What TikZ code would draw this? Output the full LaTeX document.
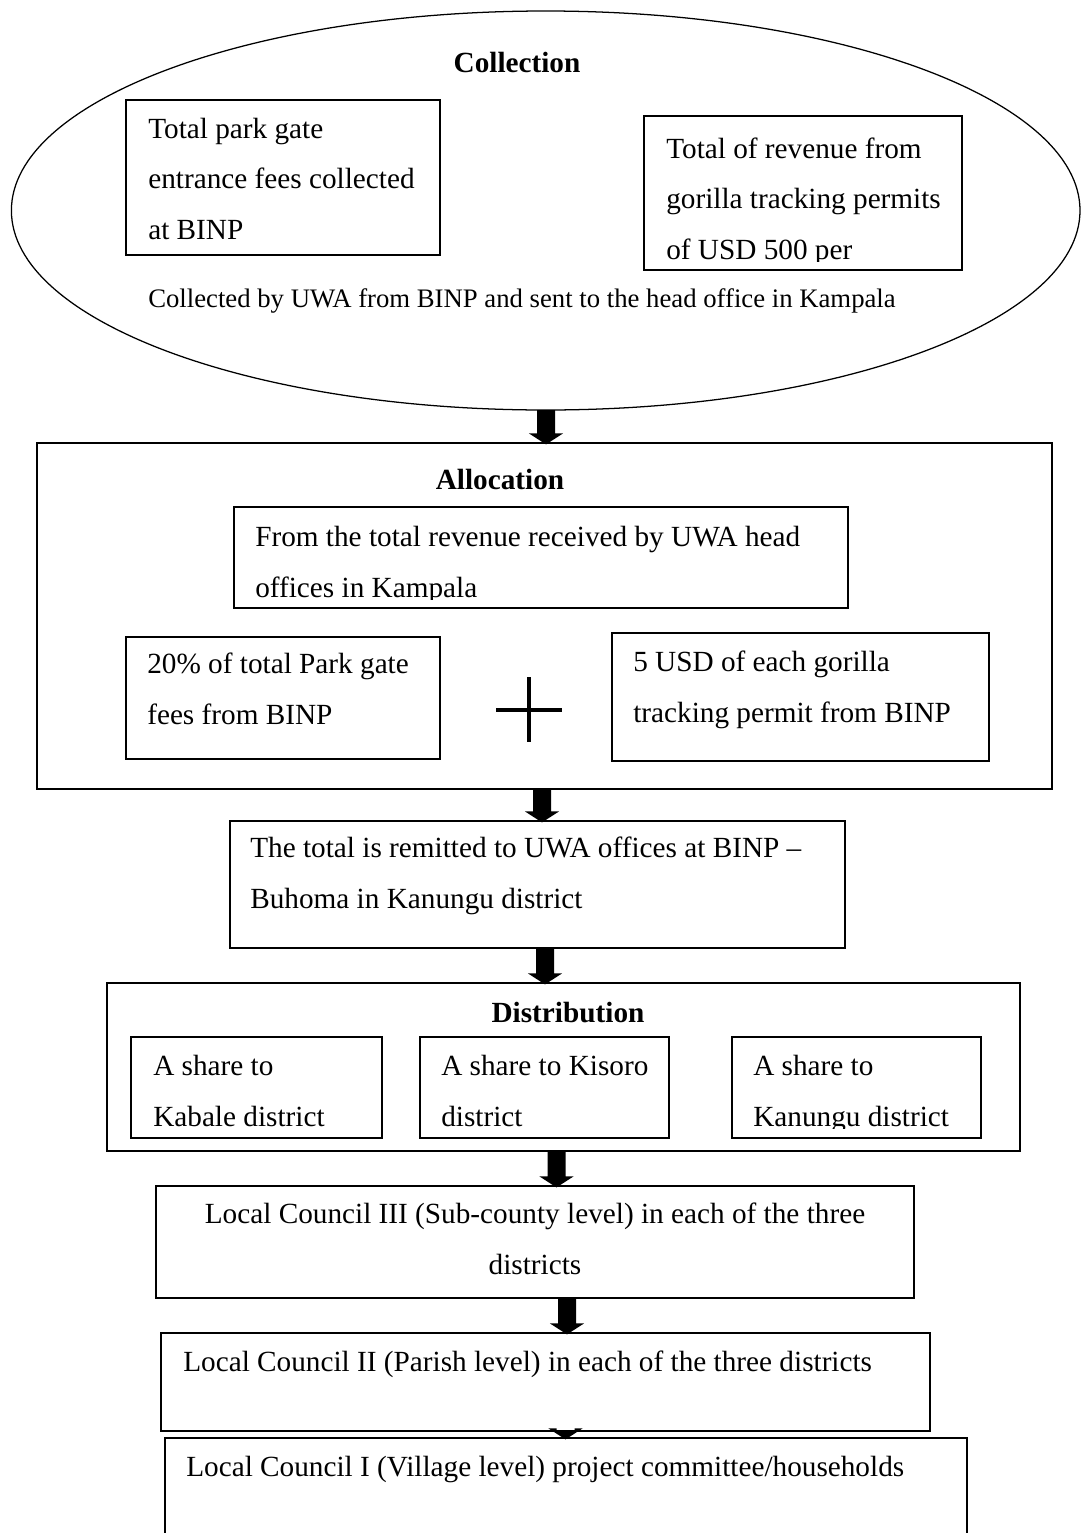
\documentclass[tikz,border=0pt]{standalone}
\usepackage{fontspec}
\setmainfont{Liberation Serif}
\usetikzlibrary{shapes.geometric,calc}
\newcommand\bx[5]{\node[boxstyle, minimum width={(#4-#2)*0.025cm}, minimum height={(#5-#3)*0.025cm}] (#1) at (#2,#3) {};}
\newcommand\barrow[3]{\fill let \p0=(#1,0), \p1=(#2), \p2=(#3) in
  (\x0-6.4pt,\y1) -- (\x0-6.4pt,\y2+6.8pt) -- (\x0-12.1pt,\y2+6.8pt) -- (\x0,\y2-1pt) --
  (\x0+12.1pt,\y2+6.8pt) -- (\x0+6.4pt,\y2+6.8pt) -- (\x0+6.4pt,\y1) -- cycle;}
\begin{document}
\begin{tikzpicture}[x=0.025cm,y=-0.025cm,
  boxstyle/.style={draw, line width=1.2pt, inner sep=0pt, outer sep=0pt, anchor=north west},
  txt/.style={font=\fontsize{20.8}{35.6}\selectfont, inner sep=0pt, align=left, anchor=base west},
  head/.style={font=\fontsize{20.8}{35.6}\selectfont\bfseries, inner sep=0pt, anchor=base},
  captxt/.style={font=\fontsize{19}{30}\selectfont, inner sep=0pt, anchor=base west}]
\useasboundingbox (0,0) rectangle (1081,1533);
\clip (0,0) rectangle (1081,1533);
% Collection
\node[ellipse, draw, line width=0.9pt, minimum width={1068.6*0.025cm}, minimum height={399*0.025cm}, inner sep=0pt, outer sep=0pt] (ell) at (545.7,210.5) {};
\node[head] (hcoll) at (517,72) {Collection};
\bx{box1}{126}{100}{440}{255}
\bx{box2}{644}{116}{962}{270}
\node[txt] (t1) at (148,239) {Total park gate\\entrance fees collected\\at BINP};
\begin{scope}
\clip (box2.north west) rectangle (962,261);
\node[txt] (t2) at (666,259) {Total of revenue from\\gorilla tracking permits\\of USD 500 per};
\end{scope}
\node[captxt] (tcap) at (148,307) {Collected by UWA from BINP and sent to the head office in Kampala};
% Allocation
\bx{alloc}{37}{443}{1052}{789}
\node[head] (halloc) at (500,489) {Allocation};
\bx{from}{234}{507}{848}{608}
\begin{scope}
\clip (from.north west) rectangle (848,599);
\node[txt] (t3) at (255,597) {From the total revenue received by UWA head\\offices in Kampala};
\end{scope}
\bx{pct}{126}{637}{440}{759}
\node[txt] (t4) at (147,724) {20\% of total Park gate\\fees from BINP};
\bx{usd}{612}{633}{989}{761}
\node[txt] (t5) at (633,722) {5 USD of each gorilla\\tracking permit from BINP};
\draw[line width=2.2pt] (529,677) -- (529,742) (496,710) -- (562,710);
% Remit
\bx{remit}{230}{821}{845}{948}
\node[txt] (t6) at (250,908) {The total is remitted to UWA offices at BINP –\\Buhoma in Kanungu district};
% Distribution
\bx{dist}{107}{983}{1020}{1151}
\node[head] (hdist) at (568,1022) {Distribution};
\bx{shA}{131}{1037}{382}{1138}
\bx{shB}{420}{1037}{669}{1138}
\bx{shC}{732}{1037}{981}{1138}
\node[txt] (t7) at (153,1126) {A share to\\Kabale district};
\node[txt] (t8) at (441,1126) {A share to Kisoro\\district};
\begin{scope}
\clip (shC.north west) rectangle (981,1128);
\node[txt] (t9) at (753,1126) {A share to\\Kanungu district};
\end{scope}
% Local councils
\bx{lc3}{156}{1186}{914}{1298}
\node[txt, anchor=base, align=center] (t10) at (535,1274) {Local Council III (Sub-county level) in each of the three\\districts};
\bx{lc2}{161}{1333}{930}{1431}
\node[txt] (t11) at (183,1371) {Local Council II (Parish level) in each of the three districts};
\bx{lc1}{165}{1438}{967}{1560}
\node[txt] (t12) at (186,1476) {Local Council I (Village level) project committee/households};
% Arrows
\barrow{546}{ell.south}{alloc.north}
\barrow{542}{alloc.south}{remit.north}
\barrow{545}{remit.south}{dist.north}
\barrow{556.5}{dist.south}{lc3.north}
\barrow{567}{lc3.south}{lc2.north}
\barrow{565.5}{lc2.south}{lc1.north}
\end{tikzpicture}
\end{document}
